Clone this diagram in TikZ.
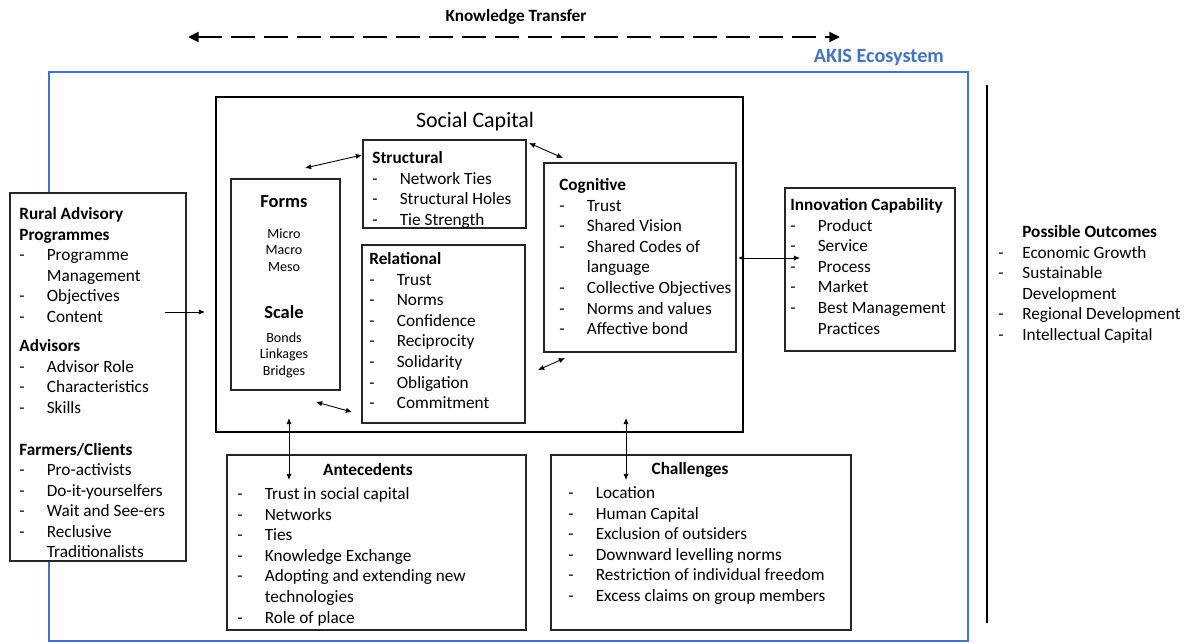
\documentclass[tikz,border=0pt]{standalone}
\usepackage{fontspec}
\setmainfont{Carlito}
\usepackage{xcolor}
\usetikzlibrary{fit,arrows.meta}
\definecolor{akisblue}{HTML}{4472C4}

% list items
\newcommand{\itm}[1]{\makebox[0.55cm][l]{-}#1}
\newcommand{\cont}[1]{\hspace*{0.55cm}#1}

\tikzset{
  box/.style={draw=black!85, line width=0.8pt, inner sep=0pt},
  txt/.style={anchor=north west, inner sep=0pt, align=left,
    font=\fontsize{9.8}{11.7}\selectfont},
  small/.style={inner sep=0pt, align=center,
    font=\fontsize{8}{9.3}\selectfont},
  link/.style={line width=0.5pt, {Latex[length=3.5pt,width=3pt]}-{Latex[length=3.5pt,width=3pt]}}
}

\begin{document}
\begin{tikzpicture}[x=0.02cm, y=-0.02cm]
  \useasboundingbox (0,0) rectangle (1186,643);

  % Knowledge transfer
  \node[font=\fontsize{9.8}{11.7}\selectfont\bfseries] (kt) at (516,17) {Knowledge Transfer};
  \coordinate (ktL) at (188,37);
  \coordinate (ktR) at (840,37);
  \draw[line width=1.7pt, dash pattern=on 0.48cm off 0.18cm,
    {Triangle[length=6pt,width=5.5pt]}-{Triangle[length=6pt,width=5.5pt]}] (ktL) -- (ktR);

  % AKIS ecosystem
  \node[box, draw=akisblue, line width=1.5pt, fit={(49,72) (968,641)}] (akis) {};
  \node[anchor=east, text=akisblue, font=\fontsize{11.5}{13}\selectfont\bfseries] (akisLabel) at (950,57) {AKIS Ecosystem};

  % Outcomes divider
  \coordinate (divTop) at (987,85);
  \coordinate (divBot) at (987,623);
  \draw[line width=1.5pt] (divTop) -- (divBot);

  % Social capital
  \node[box, draw=black, line width=1.6pt, fit={(216,97) (743,432)}] (sc) {};
  \node[font=\fontsize{12.5}{15}\selectfont] (scTitle) at (475,122) {Social Capital};

  % Rural advisory programmes
  \node[box, fill=white, fit={(10,193) (186,561)}] (ra) {};
  \node[txt] (raText) at (19,205) {\strut\textbf{Rural Advisory}\\
    \textbf{Programmes}\\
    \itm{Programme}\\
    \cont{Management}\\
    \itm{Objectives}\\
    \itm{Content}\\[5pt]
    \textbf{Advisors}\\
    \itm{Advisor Role}\\
    \itm{Characteristics}\\
    \itm{Skills}\\[12pt]
    \textbf{Farmers/Clients}\\
    \itm{Pro-activists}\\
    \itm{Do-it-yourselfers}\\
    \itm{Wait and See-ers}\\
    \itm{Reclusive}\\
    \cont{Traditionalists}};

  % Forms and scale
  \node[box, fit={(231,179) (340,390)}] (forms) {};
  \node[font=\fontsize{10.5}{12}\selectfont\bfseries] (formsTitle) at (284,202) {Forms};
  \node[small] (formsList) at (284,250) {Micro\\Macro\\Meso};
  \node[font=\fontsize{10.5}{12}\selectfont\bfseries] (scaleTitle) at (284,312) {Scale};
  \node[small] (scaleList) at (284,355) {Bonds\\Linkages\\Bridges};

  % Structural
  \node[box, fit={(363,140) (526,228)}] (struct) {};
  \node[txt] (structText) at (372,149) {\strut\textbf{Structural}\\
    \itm{Network Ties}\\
    \itm{Structural Holes}\\
    \itm{Tie Strength}};

  % Relational
  \node[box, fit={(362,245) (525,423)}] (rel) {};
  \node[txt] (relText) at (369,250) {\strut\textbf{Relational}\\
    \itm{Trust}\\
    \itm{Norms}\\
    \itm{Confidence}\\
    \itm{Reciprocity}\\
    \itm{Solidarity}\\
    \itm{Obligation}\\
    \itm{Commitment}};

  % Cognitive
  \node[box, fit={(544,163) (736,352)}] (cog) {};
  \node[txt] (cogText) at (559,176) {\strut\textbf{Cognitive}\\
    \itm{Trust}\\
    \itm{Shared Vision}\\
    \itm{Shared Codes of}\\
    \cont{language}\\
    \itm{Collective Objectives}\\
    \itm{Norms and values}\\
    \itm{Affective bond}};

  % Innovation capability
  \node[box, fit={(785,188) (955,351)}] (inno) {};
  \node[txt] (innoText) at (790,196) {\strut\textbf{Innovation Capability}\\
    \itm{Product}\\
    \itm{Service}\\
    \itm{Process}\\
    \itm{Market}\\
    \itm{Best Management}\\
    \cont{Practices}};

  % Possible outcomes
  \node[txt] (outText) at (998,223) {\strut\hspace*{0.48cm}\textbf{Possible Outcomes}\\
    \makebox[0.48cm][l]{-}Economic Growth\\
    \makebox[0.48cm][l]{-}Sustainable\\
    \hspace*{0.48cm}Development\\
    \makebox[0.48cm][l]{-}Regional Development\\
    \makebox[0.48cm][l]{-}Intellectual Capital};

  % Antecedents
  \node[box, fit={(227,455) (526,630)}] (ante) {};
  \node[font=\fontsize{9.8}{11.7}\selectfont\bfseries] (anteTitle) at (368,470) {Antecedents};
  \node[txt] (anteText) at (237,485) {\strut\itm{Trust in social capital}\\
    \itm{Networks}\\
    \itm{Ties}\\
    \itm{Knowledge Exchange}\\
    \itm{Adopting and extending new}\\
    \cont{technologies}\\
    \itm{Role of place}};

  % Challenges
  \node[box, fit={(551,455) (851,630)}] (chal) {};
  \node[font=\fontsize{9.8}{11.7}\selectfont\bfseries] (chalTitle) at (690,470) {Challenges};
  \node[txt] (chalText) at (568,484) {\strut\itm{Location}\\
    \itm{Human Capital}\\
    \itm{Exclusion of outsiders}\\
    \itm{Downward levelling norms}\\
    \itm{Restriction of individual freedom}\\
    \itm{Excess claims on group members}};

  % Arrow ends
  \coordinate (raOut) at (165,312);
  \coordinate (scIn) at (205,312);
  \coordinate (formsUp) at (305,168);
  \coordinate (structL) at (362,155);
  \coordinate (structR) at (529,143);
  \coordinate (cogUp) at (563,158);
  \coordinate (formsDown) at (316,402);
  \coordinate (relL) at (352,412);
  \coordinate (relR) at (538,370);
  \coordinate (cogDown) at (565,358);
  \coordinate (cogR) at (738,258);
  \coordinate (innoL) at (800,258);
  \coordinate (scAnte) at (289,418);
  \coordinate (anteTop) at (289,480);
  \coordinate (scChal) at (626,418);
  \coordinate (chalTop) at (626,480);

  % Arrows
  \draw[line width=0.5pt, -{Latex[length=3.5pt,width=3pt]}] (raOut) -- (scIn);
  \draw[link] (formsUp) -- (structL);
  \draw[link] (structR) -- (cogUp);
  \draw[link] (formsDown) -- (relL);
  \draw[link] (relR) -- (cogDown);
  \draw[link] (cogR) -- (innoL);
  \draw[link] (scAnte) -- (anteTop);
  \draw[link] (scChal) -- (chalTop);
\end{tikzpicture}
\end{document}
